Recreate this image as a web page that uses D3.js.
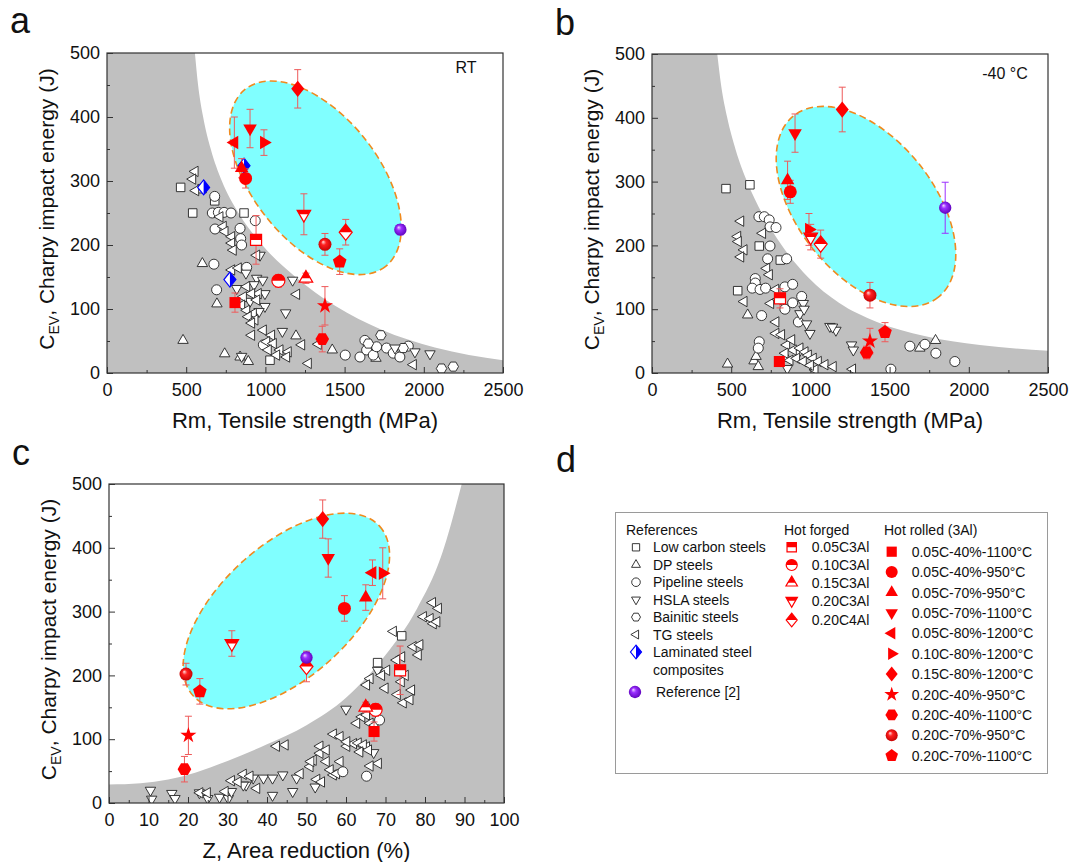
<!DOCTYPE html>
<html>
<head>
<meta charset="utf-8">
<script src="https://cdn.jsdelivr.net/npm/d3@7"></script>
<style>
body { margin: 0; background: #fff; }
text { font-family: Arial, "Liberation Sans", sans-serif; fill: #111; }
</style>
</head>
<body>
<svg id="fig" width="1071" height="862"></svg>
<script>
// ---------- legend categories ----------
var refKeys = ["LC", "DP", "PL", "HSLA", "BA", "TG", "LAM"];
var refLabels = ["Low carbon steels", "DP steels", "Pipeline steels", "HSLA steels", "Bainitic steels", "TG steels", "Laminated steel"];
var forgedKeys = ["F05", "F10", "F15", "F20", "F20C4"];
var forgedLabels = ["0.05C3Al", "0.10C3Al", "0.15C3Al", "0.20C3Al", "0.20C4Al"];
var rolledKeys = ["R1", "R2", "R3", "R4", "R5", "R6", "R7", "R8", "R9", "R10", "R11"];
var rolledLabels = ["0.05C-40%-1100°C", "0.05C-40%-950°C", "0.05C-70%-950°C", "0.05C-70%-1100°C",
  "0.05C-80%-1200°C", "0.10C-80%-1200°C", "0.15C-80%-1200°C", "0.20C-40%-950°C",
  "0.20C-40%-1100°C", "0.20C-70%-950°C", "0.20C-70%-1100°C"];

// ---------- tick values ----------
var yTicks = [0, 100, 200, 300, 400, 500];
var rmTicks = [0, 500, 1000, 1500, 2000, 2500];
var zTicks = [0, 10, 20, 30, 40, 50, 60, 70, 80, 90, 100];

// ---------- panel a : RT, Rm vs CEV ----------
var refPtsA = [
  ["LC",465,290],["LC",541,250],["LC",865,250],["LC",680,269],["LC",1029,20],["LC",600,288],
  ["DP",480,51],["DP",602,171],["DP",694,108],["DP",743,30],["DP",892,18],["DP",1193,58],["DP",1422,36],["DP",1698,23],["DP",840,25],
  ["PL",675,170],["PL",692,130],["PL",680,276],["PL",665,250],["PL",703,251],["PL",739,251],["PL",783,250],["PL",682,225],
  ["PL",840,226],["PL",844,210],["PL",850,200],["PL",936,238],["PL",882,165],["PL",987,44],["PL",1504,28],["PL",1628,51],
  ["PL",1597,25],["PL",1639,36],["PL",1681,28],["PL",1702,41],["PL",1765,39],["PL",1807,31],["PL",1849,25],["PL",1902,42],
  ["BA",1729,59],["BA",1870,39],["BA",2112,7],["BA",2186,10],["BA",1650,46],
  ["HSLA",966,184],["HSLA",877,156],["HSLA",819,132],["HSLA",945,148],["HSLA",983,145],["HSLA",928,138],["HSLA",997,124],
  ["HSLA",903,112],["HSLA",997,104],["HSLA",1172,145],["HSLA",1128,94],["HSLA",1107,65],["HSLA",850,26],["HSLA",1818,39],
  ["HSLA",1944,33],["HSLA",2039,30],["HSLA",960,96],
  ["TG",556,315],["TG",541,303],["TG",560,285],["TG",713,244],["TG",734,229],["TG",745,221],["TG",787,213],["TG",787,203],
  ["TG",797,192],["TG",945,184],["TG",787,161],["TG",829,164],["TG",882,135],["TG",955,124],["TG",913,124],["TG",861,119],
  ["TG",945,114],["TG",850,106],["TG",882,98],["TG",924,93],["TG",892,88],["TG",934,83],["TG",913,78],["TG",1197,123],
  ["TG",913,59],["TG",987,67],["TG",1039,59],["TG",1008,49],["TG",1050,46],["TG",1018,36],["TG",1092,36],["TG",1144,33],
  ["TG",1134,25],["TG",1071,28],["TG",1229,44],["TG",1271,15],["TG",1334,45],["TG",1934,13],
  ["LAM",610,290],["LAM",865,324],["LAM",776,146]
];
var ownPtsA = [
  ["R7",1204,444,30],["R4",903,382,30],["R5",804,360,40],["R6",991,360,20],["R3",850,320,15],["R2",875,304,15],
  ["F20",1243,248,32],["F20C4",1507,220,20],["PUR",1852,224,8],["R10",1376,201,17],["R11",1469,174,20],
  ["F05",941,208,38],["F10",1082,144,10],["F15",1256,148,8],["R1",808,110,15],["R8",1376,105,30],["R9",1359,53,20]
];
var grayEdgeA = [[555,500],[575,450],[607,400],[655,350],[725,300],[830,250],[980,200],[1190,150],[1440,105],[1730,68],[2070,40],[2500,20]];
var ellipseA = [1316, 305];

// ---------- panel b : -40 C, Rm vs CEV ----------
var refPtsB = [
  ["LC",467,289],["LC",618,295],["LC",677,199],["LC",810,177],["LC",541,129],
  ["DP",477,14],["DP",604,91],["DP",644,19],["DP",671,10],["DP",850,23],["DP",1691,39],["DP",1790,51],["DP",657,26],
  ["PL",675,245],["PL",709,245],["PL",740,240],["PL",745,229],["PL",783,228],["PL",745,199],["PL",730,179],["PL",850,179],
  ["PL",652,148],["PL",652,141],["PL",633,133],["PL",682,131],["PL",717,133],["PL",839,135],["PL",888,139],["PL",945,120],
  ["PL",839,100],["PL",692,90],["PL",888,110],["PL",924,80],["PL",677,49],["PL",671,39],["PL",1628,42],["PL",1723,45],
  ["PL",1792,31],["PL",1912,18],["PL",1508,6],
  ["HSLA",955,109],["HSLA",934,93],["HSLA",976,77],["HSLA",997,62],["HSLA",1123,73],["HSLA",1161,67],["HSLA",1140,72],
  ["HSLA",1260,44],["HSLA",1271,36],["HSLA",854,7],["HSLA",924,31],["HSLA",960,100],
  ["TG",560,238],["TG",541,214],["TG",545,206],["TG",581,193],["TG",560,182],["TG",698,219],["TG",724,164],["TG",741,154],
  ["TG",781,131],["TG",581,112],["TG",749,109],["TG",797,115],["TG",782,80],["TG",782,62],["TG",818,60],["TG",850,44],
  ["TG",882,52],["TG",892,36],["TG",934,39],["TG",966,33],["TG",987,28],["TG",1018,23],["TG",1050,18],["TG",1092,13],
  ["TG",1144,10],["TG",1029,5],["TG",1266,6],["TG",840,31],["TG",871,20],["TG",913,23],["TG",955,18],["TG",1000,12]
];
var ownPtsB = [
  ["F05",808,117,15],["R7",1201,413,35],["R4",903,376,30],["R3",856,302,30],["R2",873,284,18],["R6",991,225,25],
  ["F20",1002,213,20],["F20C4",1065,202,22],["PUR",1851,259,40],["R10",1376,122,20],["R11",1471,64,15],
  ["R8",1376,50,20],["R9",1355,32,10],["R1",804,18,0]
];
var grayEdgeB = [[412,500],[437,450],[475,400],[528,350],[600,300],[695,250],[820,200],[985,150],[1180,110],[1420,80],[1720,58],[2070,44],[2500,35]];
var ellipseB = [1351, 261];

// ---------- panel c : Z vs CEV ----------
var refPtsC = [
  ["HSLA",10.5,20],["HSLA",10.8,6],["HSLA",15.9,15],["HSLA",16.7,7],["HSLA",22.9,16],["HSLA",25,7],["HSLA",28,9],
  ["HSLA",30.2,7],["HSLA",31,18],["HSLA",34.7,28],["HSLA",36.5,39],["HSLA",39.1,39],["HSLA",41.4,39],["HSLA",41.4,12],
  ["HSLA",44,44],["HSLA",46.5,18],["HSLA",47.5,39],["HSLA",60,147],["HSLA",67,79],["HSLA",68,208],["HSLA",34,28],["HSLA",52.2,25],
  ["TG",23,16],["TG",24.9,16],["TG",29.4,18],["TG",31,35],["TG",34,45],["TG",35.7,42],["TG",32.7,33],["TG",37.4,23],
  ["TG",42.4,89],["TG",44.6,91],["TG",48.4,46],["TG",50.9,57],["TG",51.7,67],["TG",53.4,89],["TG",53.4,78],["TG",52.6,37],
  ["TG",55,83],["TG",55,65],["TG",56.8,108],["TG",58.5,104],["TG",58.5,65],["TG",60.2,89],["TG",61.9,93],["TG",64,135],
  ["TG",62.7,125],["TG",65.2,138],["TG",66.1,125],["TG",65.2,88],["TG",68.2,62],["TG",66.1,58],["TG",72,269],["TG",74.1,229],
  ["TG",72.8,224],["TG",70.3,208],["TG",69,200],["TG",69.9,180],["TG",66.1,195],["TG",65.2,185],["TG",77,245],["TG",78.7,248],
  ["TG",78.3,232],["TG",76.6,177],["TG",74.5,157],["TG",76.2,162],["TG",79.6,292],["TG",81.3,289],["TG",82.1,281],["TG",83,284],
  ["TG",81.9,314],["TG",83.4,305],["TG",51.1,65],["TG",53.8,33],["TG",56.8,44],["TG",56,52],["TG",57.6,46],["TG",60.2,96],
  ["TG",63.1,94],["TG",64.4,91],["TG",65.7,83],["TG",63.5,80],["TG",67.3,122],["TG",74,190],["TG",75,200],["TG",73,170],
  ["LC",74.1,262],["LC",68,220],
  ["PL",59.2,49],["PL",65.2,42],["PL",68.5,130],
  ["DP",65.5,150]
];
var ownPtsC = [
  ["R7",54.1,445,30],["R4",55.5,384,30],["R5",66.7,361,20],["R6",69.3,360,40],["R3",65,322,20],["R2",59.6,305,20],
  ["F20",31.1,250,20],["F20C4",50,214,24],["PUR",50,228,8],["R10",19.5,202,17],["R11",23,175,20],["R8",20.1,106,30],
  ["R9",19.1,53,20],["R1",67.1,112,15],["F05",73.7,208,38],["F10",67.5,146,10],["F15",65,150,8]
];
var grayEdgeC = [[0,29],[8,31],[15,37],[22,48],[30,66],[40,92],[50,122],[60,165],[70,232],[78,305],[84,385],[89.3,500]];
var ellipseC = [44.9, 301];

// ---------- styles ----------
var refShape = {LC:"square", DP:"triUp", PL:"circle", HSLA:"triDown", BA:"hexagon", TG:"triLeft", LAM:"diamond"};
var forgedShape = {F05:"square", F10:"circle", F15:"triUp", F20:"triDown", F20C4:"diamond"};
var rolledShape = {R1:"square", R2:"circle", R3:"triUp", R4:"triDown", R5:"triLeft", R6:"triRight",
  R7:"diamond", R8:"star", R9:"hexagon", R10:"sphere", R11:"pentagon"};
var RED = "#ff0000", ERR = "#ee5a5a";

var svg = d3.select("#fig");
var defs = svg.append("defs");

defs.append("clipPath").attr("id", "topHalf").attr("clipPathUnits", "userSpaceOnUse")
  .append("rect").attr("x", -20).attr("y", -20).attr("width", 40).attr("height", 20);
defs.append("clipPath").attr("id", "rightHalf").attr("clipPathUnits", "userSpaceOnUse")
  .append("rect").attr("x", 0).attr("y", -20).attr("width", 20).attr("height", 40);

function sphereGrad(id, c0, c1, c2) {
  var gr = defs.append("radialGradient").attr("id", id)
    .attr("cx", 0.5).attr("cy", 0.5).attr("r", 0.55).attr("fx", 0.35).attr("fy", 0.3);
  gr.append("stop").attr("offset", "0%").attr("stop-color", c0);
  gr.append("stop").attr("offset", "35%").attr("stop-color", c1);
  gr.append("stop").attr("offset", "100%").attr("stop-color", c2);
}
sphereGrad("gRed", "#ffe0e0", "#ff2020", "#c00000");
sphereGrad("gPur", "#f0d8ff", "#9b30ff", "#5a00b8");

function poly(n, r, rot) {
  var pts = d3.range(n).map(function(i) {
    var a = rot + i * 2 * Math.PI / n;
    return [r * Math.cos(a), r * Math.sin(a)];
  });
  return "M" + pts.join("L") + "Z";
}

function shapeD(shape, r) {
  switch (shape) {
    case "square": var s = r * 0.85; return "M" + (-s) + "," + (-s) + "H" + s + "V" + s + "H" + (-s) + "Z";
    case "circle": return "M" + r + ",0A" + r + "," + r + " 0 1 1 " + (-r) + ",0A" + r + "," + r + " 0 1 1 " + r + ",0Z";
    case "triUp": return poly(3, r * 1.2, -Math.PI / 2);
    case "triDown": return poly(3, r * 1.2, Math.PI / 2);
    case "triLeft": return poly(3, r * 1.2, Math.PI);
    case "triRight": return poly(3, r * 1.2, 0);
    case "diamond": return "M0," + (-r * 1.25) + "L" + r + ",0L0," + (r * 1.25) + "L" + (-r) + ",0Z";
    case "hexagon": return poly(6, r * 1.05, 0);
    case "pentagon": return poly(5, r * 1.1, -Math.PI / 2);
    case "star":
      var p = d3.range(10).map(function(i) {
        var rr = i % 2 ? r * 0.5 : r * 1.3, a = -Math.PI / 2 + i * Math.PI / 5;
        return [rr * Math.cos(a), rr * Math.sin(a)];
      });
      return "M" + p.join("L") + "Z";
  }
  return "";
}

function drawMarker(parent, key, px, py, r) {
  var m = parent.append("g").attr("transform", "translate(" + px + "," + py + ")");
  if (key === "LAM") {
    m.append("path").attr("d", shapeD("diamond", r)).attr("fill", "#fff");
    m.append("path").attr("d", shapeD("diamond", r)).attr("fill", "#0000ff").attr("clip-path", "url(#rightHalf)");
    m.append("path").attr("d", shapeD("diamond", r)).attr("fill", "none").attr("stroke", "#0000ff").attr("stroke-width", 1.2);
  } else if (refShape[key]) {
    m.append("path").attr("d", shapeD(refShape[key], r)).attr("fill", "#fff").attr("stroke", "#222").attr("stroke-width", 0.9);
  } else if (forgedShape[key]) {
    var d = shapeD(forgedShape[key], r);
    m.append("path").attr("d", d).attr("fill", "#fff");
    m.append("path").attr("d", d).attr("fill", RED).attr("clip-path", "url(#topHalf)");
    m.append("path").attr("d", d).attr("fill", "none").attr("stroke", RED).attr("stroke-width", 1.2);
  } else if (key === "PUR") {
    m.append("circle").attr("r", r * 0.95).attr("fill", "url(#gPur)");
  } else if (rolledShape[key] === "sphere") {
    m.append("circle").attr("r", r).attr("fill", "url(#gRed)");
  } else {
    m.append("path").attr("d", shapeD(rolledShape[key], r)).attr("fill", RED);
  }
}

function makePanel(cfg) {
  var g = svg.append("g");
  var x = d3.scaleLinear().domain(cfg.xDomain).range([cfg.left, cfg.left + cfg.w]);
  var y = d3.scaleLinear().domain([0, 500]).range([cfg.top + cfg.h, cfg.top]);
  var clipId = "clip" + cfg.id;
  defs.append("clipPath").attr("id", clipId).append("rect")
    .attr("x", cfg.left).attr("y", cfg.top).attr("width", cfg.w).attr("height", cfg.h);
  var plot = g.append("g").attr("clip-path", "url(#" + clipId + ")");

  // gray envelope of reference data
  var edge = d3.line().x(function(d) { return x(d[0]); }).y(function(d) { return y(d[1]); })
    .curve(d3.curveMonotoneX)(cfg.edge);
  var x0 = cfg.xDomain[0], x1 = cfg.xDomain[1];
  var tail = cfg.grayRight
    ? "L" + x(x1) + "," + y(500) + "L" + x(x1) + "," + y(0) + "L" + x(x0) + "," + y(0) + "Z"
    : "L" + x(x1) + "," + y(0) + "L" + x(x0) + "," + y(0) + "L" + x(x0) + "," + y(500) + "Z";
  plot.append("path").attr("d", edge + tail).attr("fill", "#c0c0c0");

  // cyan region
  var ex = x(cfg.ell[0]), ey = y(cfg.ell[1]);
  plot.append("ellipse").attr("cx", ex).attr("cy", ey).attr("rx", cfg.ellR[0]).attr("ry", cfg.ellR[1])
    .attr("transform", "rotate(" + cfg.ellR[2] + "," + ex + "," + ey + ")")
    .attr("fill", "#80ffff").attr("stroke", "#f08a1e").attr("stroke-width", 1.6).attr("stroke-dasharray", "7,4");

  // reference points (laminated composites on top)
  cfg.refs.filter(function(d) { return d[0] !== "LAM"; }).forEach(function(d) {
    drawMarker(plot, d[0], x(d[1]), y(d[2]), 5);
  });
  cfg.refs.filter(function(d) { return d[0] === "LAM"; }).forEach(function(d) {
    drawMarker(plot, d[0], x(d[1]), y(d[2]), 6);
  });

  // error bars then own points
  cfg.own.forEach(function(d) {
    if (!d[3]) return;
    var col = d[0] === "PUR" ? "#9b30ff" : ERR;
    var cx = x(d[1]), ya = y(d[2] - d[3]), yb = y(d[2] + d[3]);
    plot.append("path").attr("d", "M" + cx + "," + ya + "V" + yb + "M" + (cx - 3.5) + "," + ya + "h7M" + (cx - 3.5) + "," + yb + "h7")
      .attr("stroke", col).attr("stroke-width", 1).attr("fill", "none");
  });
  cfg.own.forEach(function(d) {
    drawMarker(plot, d[0], x(d[1]), y(d[2]), 6.5);
  });

  // axes, ticks pointing inside
  g.append("g").attr("transform", "translate(0," + (cfg.top + cfg.h) + ")")
    .call(d3.axisBottom(x).tickValues(cfg.xTicks).tickSize(-6).tickPadding(10).tickFormat(d3.format("d")));
  g.append("g").attr("transform", "translate(0," + (cfg.top + cfg.h) + ")")
    .call(d3.axisBottom(x).tickValues(cfg.xMinor).tickSize(-3).tickFormat(""));
  g.append("g").attr("transform", "translate(" + cfg.left + ",0)")
    .call(d3.axisLeft(y).tickValues(yTicks).tickSize(-6).tickPadding(7).tickFormat(d3.format("d")));
  g.append("g").attr("transform", "translate(" + cfg.left + ",0)")
    .call(d3.axisLeft(y).tickValues([50, 150, 250, 350, 450]).tickSize(-3).tickFormat(""));
  g.selectAll(".domain").remove();
  g.selectAll(".tick line").attr("stroke", "#333");
  g.selectAll(".tick text").attr("font-size", 18).attr("font-family", "Arial, 'Liberation Sans', sans-serif").attr("fill", "#111");

  g.append("rect").attr("x", cfg.left).attr("y", cfg.top).attr("width", cfg.w).attr("height", cfg.h)
    .attr("fill", "none").attr("stroke", "#333").attr("stroke-width", 1.2);

  // titles
  g.append("text").attr("x", cfg.left + cfg.w / 2).attr("y", cfg.top + cfg.h + 55)
    .attr("text-anchor", "middle").attr("font-size", 22).text(cfg.xTitle);
  var yt = g.append("text").attr("transform", "translate(" + (cfg.left - 53) + "," + (cfg.top + cfg.h / 2 - 4) + ") rotate(-90)")
    .attr("text-anchor", "middle").attr("font-size", 21);
  yt.append("tspan").text("C");
  yt.append("tspan").attr("dy", 5).attr("font-size", 14).text("EV");
  yt.append("tspan").attr("dy", -5).text(", Charpy impact energy (J)");

  svg.append("text").attr("x", cfg.letter[0]).attr("y", cfg.letter[1]).attr("font-size", 36).text(cfg.id);
  if (cfg.note) {
    g.append("text").attr("x", cfg.note[0]).attr("y", cfg.note[1]).attr("text-anchor", "middle")
      .attr("font-size", 16).text(cfg.note[2]);
  }
}

makePanel({id: "a", left: 107, top: 53, w: 396, h: 320, xDomain: [0, 2500], xTicks: rmTicks,
  xMinor: [250, 750, 1250, 1750, 2250], refs: refPtsA, own: ownPtsA, edge: grayEdgeA,
  ell: ellipseA, ellR: [113, 63, 51.6], xTitle: "Rm, Tensile strength (MPa)", letter: [10, 33], note: [466, 73, "RT"]});
makePanel({id: "b", left: 652, top: 54, w: 396, h: 319, xDomain: [0, 2500], xTicks: rmTicks,
  xMinor: [250, 750, 1250, 1750, 2250], refs: refPtsB, own: ownPtsB, edge: grayEdgeB,
  ell: ellipseB, ellR: [116, 68, 51.4], xTitle: "Rm, Tensile strength (MPa)", letter: [555, 35], note: [1005, 79, "-40 °C"]});
makePanel({id: "c", left: 109, top: 484, w: 395, h: 319, xDomain: [0, 100], xTicks: zTicks,
  xMinor: [5, 15, 25, 35, 45, 55, 65, 75, 85, 95], refs: refPtsC, own: ownPtsC, edge: grayEdgeC, grayRight: true,
  ell: ellipseC, ellR: [126, 66, -42.3], xTitle: "Z, Area reduction (%)", letter: [12, 465]});

// ---------- legend (d) ----------
svg.append("text").attr("x", 556).attr("y", 472).attr("font-size", 36).text("d");
var lg = svg.append("g");
lg.append("rect").attr("x", 615.5).attr("y", 512.5).attr("width", 432).attr("height", 261)
  .attr("fill", "none").attr("stroke", "#9a9a9a");
lg.append("text").attr("x", 626).attr("y", 535).attr("font-size", 14).text("References");
lg.append("text").attr("x", 784).attr("y", 535).attr("font-size", 14).text("Hot forged");
lg.append("text").attr("x", 884).attr("y", 535).attr("font-size", 14).text("Hot rolled (3Al)");

refKeys.forEach(function(k, i) {
  var yy = 547.3 + i * 17.45;
  drawMarker(lg, k, 636, yy, k === "LAM" ? 5.5 : 4.3);
  lg.append("text").attr("x", 653).attr("y", yy + 5).attr("font-size", 14).text(refLabels[i]);
});
lg.append("text").attr("x", 653).attr("y", 675).attr("font-size", 14).text("composites");
drawMarker(lg, "PUR", 635, 692, 6.5);
lg.append("text").attr("x", 656).attr("y", 697).attr("font-size", 14).text("Reference [2]");

forgedKeys.forEach(function(k, i) {
  var yy = [547.3, 565, 582.7, 600.7, 620][i];
  drawMarker(lg, k, 791.7, yy, 5.5);
  lg.append("text").attr("x", 811.7).attr("y", yy + 5).attr("font-size", 14).text(forgedLabels[i]);
});
rolledKeys.forEach(function(k, i) {
  var yy = 551.7 + i * 20.4;
  drawMarker(lg, k, 891.7, yy, 6);
  lg.append("text").attr("x", 911.7).attr("y", yy + 5).attr("font-size", 14).text(rolledLabels[i]);
});
</script>
</body>
</html>
